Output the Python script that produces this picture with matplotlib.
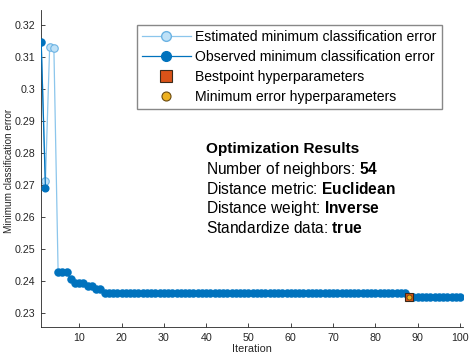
import numpy as np
import matplotlib
matplotlib.use('Agg')
import matplotlib.pyplot as plt
from matplotlib.lines import Line2D
from matplotlib.ticker import FuncFormatter

plt.rcParams['font.family'] = ['Liberation Sans', 'DejaVu Sans']
plt.rcParams['mathtext.fontset'] = 'custom'
plt.rcParams['mathtext.rm'] = 'Liberation Sans'
plt.rcParams['mathtext.bf'] = 'Liberation Sans:bold'

# values
iterations = np.arange(1, 101)
observed_min = ([0.3148, 0.2692, np.nan, np.nan]
                + [0.2428] * 3
                + [0.2405]
                + [0.2393] * 3
                + [0.2384] * 2
                + [0.2374] * 2
                + [0.2362] * 72
                + [0.2349] * 13)
estimated_min = [0.3148, 0.2712, 0.3131, 0.3128] + observed_min[4:]
best_iter = 88
best_value = 0.2349
min_iter = 88
min_value = 0.2349

results_title = 'Optimization Results'
results_lines = [
    ('Number of neighbors: ', '54'),
    ('Distance metric: ', 'Euclidean'),
    ('Distance weight: ', 'Inverse'),
    ('Standardize data: ', 'true'),
]

dark_blue = '#0072BD'
light_line = '#8cc6ec'
light_face = '#bfe1f7'
light_edge = '#6cb3e3'
axis_gray = '#262626'

fig = plt.figure(figsize=(4.74, 3.56), dpi=100)
ax = fig.add_axes([0.0869, 0.0815, 0.889, 0.8905])

ax.plot(iterations, estimated_min, '-o', color=light_line, lw=0.9,
        ms=5.4, mfc=light_face, mec=light_edge, mew=0.8, zorder=2)
ax.plot(iterations, observed_min, '-o', color=dark_blue, lw=0.9,
        ms=4.8, mfc=dark_blue, mec=dark_blue, zorder=3)
ax.plot([best_iter], [best_value], 's', ms=6, mfc='#D95319', mec='#3a2a1a',
        mew=0.8, zorder=4)
ax.plot([min_iter], [min_value], 'o', ms=3.6, mfc='#EDB120', mec='#6a4a10',
        mew=0.6, zorder=5)

ax.set_xlim(1, 100.6)
ax.set_ylim(0.2256, 0.3247)
ax.set_xticks(np.arange(10, 101, 10))
ax.set_yticks(np.round(np.arange(0.23, 0.3201, 0.01), 2))
ax.yaxis.set_major_formatter(FuncFormatter(lambda v, p: '%g' % v))

for s in ['top', 'right']:
    ax.spines[s].set_visible(False)
for s in ['left', 'bottom']:
    ax.spines[s].set_color(axis_gray)
    ax.spines[s].set_linewidth(0.6)
ax.tick_params(direction='in', length=3, width=0.6, colors=axis_gray,
               labelsize=7.7, pad=4)
ax.set_xlabel('Iteration', fontsize=7.8, color=axis_gray, labelpad=1)
ax.set_ylabel('Minimum classification error', fontsize=7.2, color=axis_gray)
ax.yaxis.set_label_coords(-0.064, 0.492)

handles = [
    Line2D([], [], color=light_line, lw=0.9, marker='o', ms=7,
           mfc=light_face, mec=light_edge),
    Line2D([], [], color=dark_blue, lw=0.9, marker='o', ms=7,
           mfc=dark_blue, mec=dark_blue),
    Line2D([], [], ls='none', marker='s', ms=8.5, mfc='#D95319', mec='#3a2a1a',
           mew=0.8),
    Line2D([], [], ls='none', marker='o', ms=6.5, mfc='#EDB120', mec='#6a4a10',
           mew=0.8),
]
labels = ['Estimated minimum classification error',
          'Observed minimum classification error',
          'Bestpoint hyperparameters',
          'Minimum error hyperparameters']
leg = ax.legend(handles, labels, loc='upper right',
                bbox_to_anchor=(0.950, 0.953), fontsize=10.1, frameon=True,
                fancybox=False, edgecolor='#6b6b6b', handlelength=3.5,
                handletextpad=0.3, labelspacing=0.44, borderpad=0.35,
                borderaxespad=0)
leg.get_frame().set_linewidth(1.0)

tx = 206 / 474
ty = 1 - 149.5 / 356
step = 19.7 / 356
fig.text(tx, ty, results_title, fontsize=11.1, fontweight='bold',
         va='center', ha='left')
for i, (plain, bold) in enumerate(results_lines):
    fig.text(tx, ty - (i + 1) * step, plain + r'$\mathbf{%s}$' % bold,
             fontsize=11.2, va='center', ha='left')

fig.savefig('out.png', dpi=100)
